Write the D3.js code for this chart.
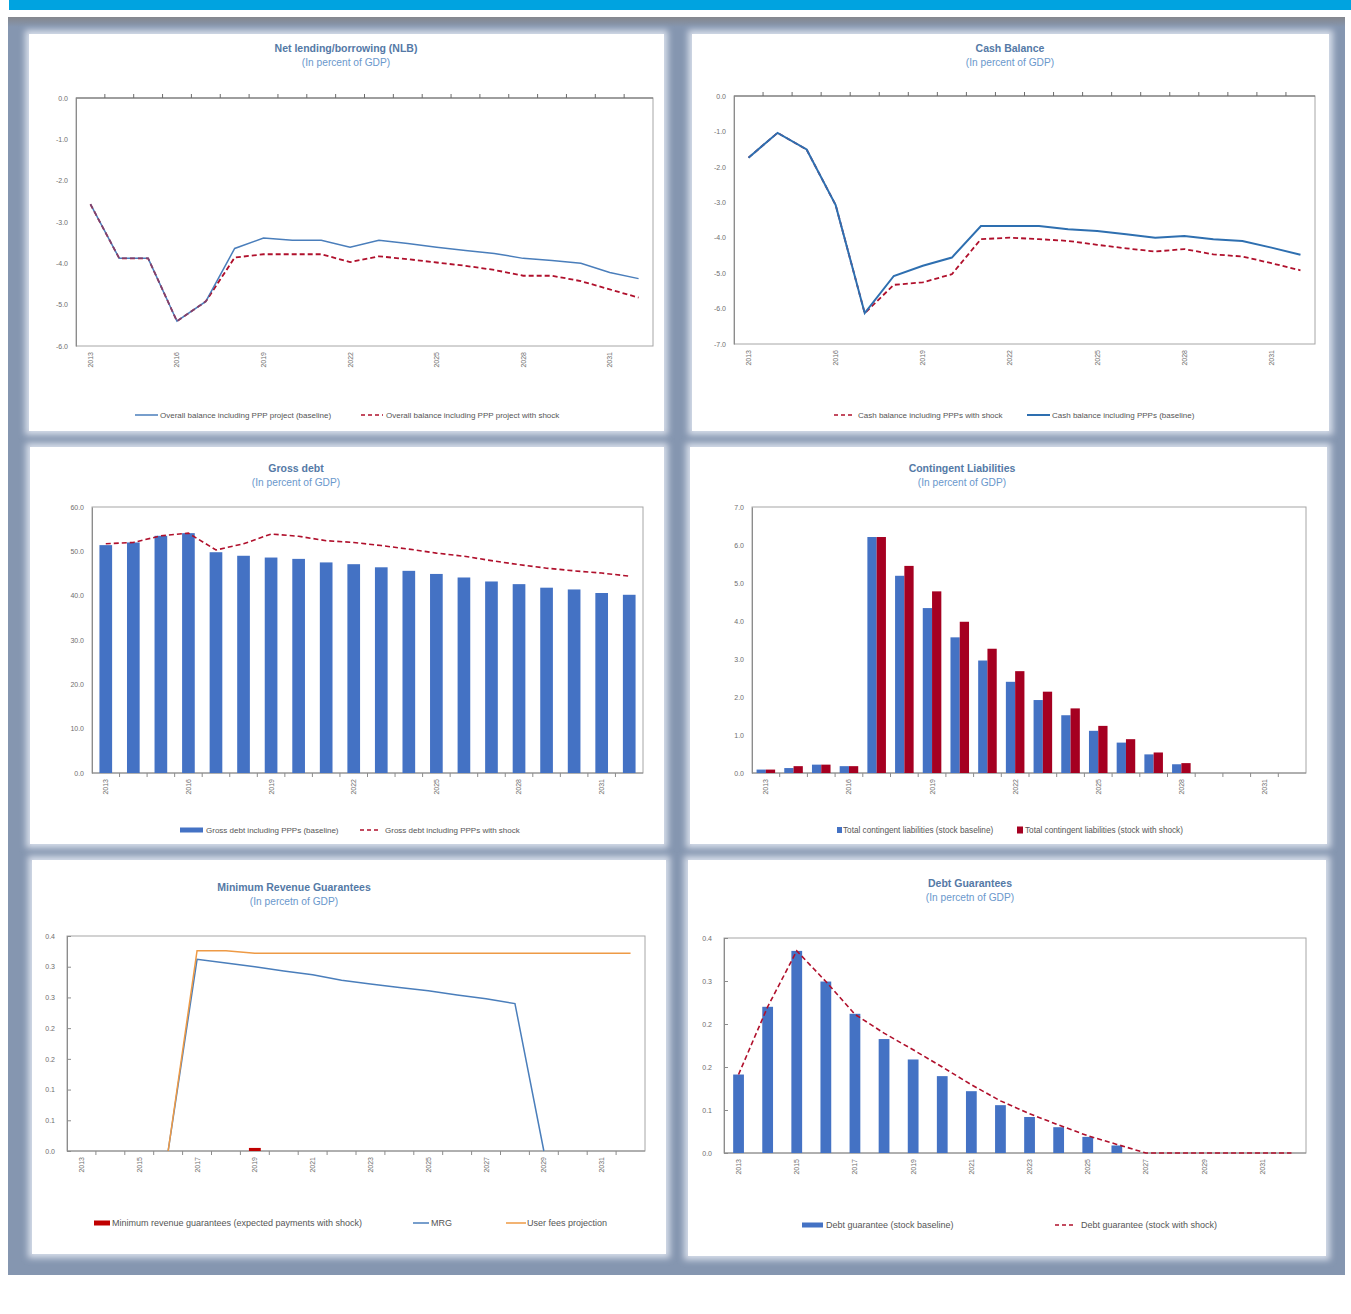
<!DOCTYPE html>
<html>
<head>
<meta charset="utf-8">
<script src="https://cdn.jsdelivr.net/npm/d3@7"></script>
<style>
  body { margin: 0; background: #fff; }
  text { font-family: "Liberation Sans", Arial, sans-serif; }
</style>
</head>
<body>
<svg id="page" width="1351" height="1314"></svg>
<script>
// ---- data ----
const years = [2013, 2014, 2015, 2016, 2017, 2018, 2019, 2020, 2021, 2022,
               2023, 2024, 2025, 2026, 2027, 2028, 2029, 2030, 2031, 2032];
const everyThird = [2013, 2016, 2019, 2022, 2025, 2028, 2031];
const everyOther = [2013, 2015, 2017, 2019, 2021, 2023, 2025, 2027, 2029, 2031];

const nlbBaseline = [-2.57, -3.88, -3.88, -5.40, -4.92, -3.64, -3.39, -3.44, -3.44, -3.61,
                     -3.44, -3.52, -3.61, -3.69, -3.76, -3.88, -3.93, -4.00, -4.22, -4.37];
const nlbShock    = [-2.57, -3.88, -3.88, -5.40, -4.92, -3.86, -3.78, -3.78, -3.78, -3.97,
                     -3.83, -3.90, -3.98, -4.06, -4.16, -4.30, -4.30, -4.43, -4.63, -4.83];
const nlbTicks = [0, -1, -2, -3, -4, -5, -6];
const nlbTickLabels = ['0.0', '-1.0', '-2.0', '-3.0', '-4.0', '-5.0', '-6.0'];

const cashBaseline = [-1.74, -1.04, -1.51, -3.08, -6.13, -5.08, -4.79, -4.56, -3.67, -3.67,
                      -3.67, -3.76, -3.81, -3.90, -4.00, -3.95, -4.04, -4.09, -4.28, -4.48];
const cashShock    = [-1.74, -1.04, -1.51, -3.08, -6.13, -5.33, -5.26, -5.03, -4.04, -4.00,
                      -4.04, -4.09, -4.20, -4.30, -4.39, -4.32, -4.47, -4.53, -4.72, -4.92];
const cashTicks = [0, -1, -2, -3, -4, -5, -6, -7];
const cashTickLabels = ['0.0', '-1.0', '-2.0', '-3.0', '-4.0', '-5.0', '-6.0', '-7.0'];

const debtBaseline = [51.4, 52.0, 53.5, 54.1, 49.8, 49.0, 48.6, 48.3, 47.5, 47.1,
                      46.4, 45.6, 44.9, 44.1, 43.2, 42.6, 41.8, 41.4, 40.6, 40.2];
const debtShock    = [51.7, 52.0, 53.5, 54.1, 50.3, 51.7, 53.9, 53.4, 52.4, 52.0,
                      51.3, 50.5, 49.6, 48.9, 47.9, 47.0, 46.2, 45.6, 45.1, 44.4];
const debtTicks = [0, 10, 20, 30, 40, 50, 60];
const debtTickLabels = ['0.0', '10.0', '20.0', '30.0', '40.0', '50.0', '60.0'];

const contBaseline = [0.09, 0.13, 0.22, 0.18, 6.21, 5.19, 4.34, 3.57, 2.96, 2.40,
                      1.92, 1.52, 1.11, 0.80, 0.49, 0.23, 0, 0, 0, 0];
const contShock    = [0.09, 0.18, 0.22, 0.18, 6.21, 5.45, 4.78, 3.98, 3.27, 2.68,
                      2.14, 1.70, 1.24, 0.89, 0.54, 0.26, 0, 0, 0, 0];
const contTicks = [0, 1, 2, 3, 4, 5, 6, 7];
const contTickLabels = ['0.0', '1.0', '2.0', '3.0', '4.0', '5.0', '6.0', '7.0'];

const mrgPayments = [0, 0, 0, 0, 0, 0, 0.005, 0, 0, 0, 0, 0, 0, 0, 0, 0, 0, 0, 0, 0];
const mrgLine     = [null, null, null, 0, 0.312, 0.306, 0.300, 0.293, 0.287, 0.278,
                     0.272, 0.266, 0.261, 0.254, 0.248, 0.240, 0, null, null, null];
const userFees    = [null, null, null, 0, 0.326, 0.326, 0.322, 0.322, 0.322, 0.322,
                     0.322, 0.322, 0.322, 0.322, 0.322, 0.322, 0.322, 0.322, 0.322, 0.322];
const mrgTicks = [0, 0.05, 0.1, 0.15, 0.2, 0.25, 0.3, 0.35];
const mrgTickLabels = ['0.0', '0.1', '0.1', '0.2', '0.2', '0.3', '0.3', '0.4'];

const guarBaseline = [0.146, 0.272, 0.376, 0.319, 0.259, 0.212, 0.174, 0.143, 0.115, 0.089,
                      0.067, 0.048, 0.030, 0.014, 0, 0, 0, 0, 0, 0];
const guarShock    = [0.146, 0.272, 0.376, 0.319, 0.258, 0.223, 0.192, 0.160, 0.127, 0.097,
                      0.073, 0.052, 0.032, 0.016, 0, 0, 0, 0, 0, 0];
const guarTicks = [0, 0.08, 0.16, 0.24, 0.32, 0.4];
const guarTickLabels = ['0.0', '0.1', '0.2', '0.2', '0.3', '0.4'];

// ---- colours ----
const BLUE_LINE = '#4a7ebb';
const BLUE_DARK = '#2e6fb0';
const BAR_BLUE = '#4472c4';
const RED = '#b0102c';
const BAR_RED = '#a50021';
const ORANGE = '#ee9a45';
const AXIS = '#8c8c8c';
const TICK_TEXT = '#6e6e6e';

const svg = d3.select('#page');
const defs = svg.append('defs');

const shade = defs.append('linearGradient').attr('id', 'topShade')
    .attr('x1', 0).attr('y1', 0).attr('x2', 0).attr('y2', 1);
shade.append('stop').attr('offset', '0%').attr('stop-color', '#85878d');
shade.append('stop').attr('offset', '100%').attr('stop-color', '#8596b0');

const glow = defs.append('filter').attr('id', 'glow')
    .attr('x', '-5%').attr('y', '-5%').attr('width', '110%').attr('height', '110%');
glow.append('feGaussianBlur').attr('stdDeviation', 3);

// page frame
svg.append('rect').attr('x', 9).attr('y', 0).attr('width', 1342).attr('height', 10).attr('fill', '#00a3e0');
svg.append('rect').attr('x', 8).attr('y', 17).attr('width', 1337).attr('height', 1258).attr('fill', '#8596b0');
svg.append('rect').attr('x', 8).attr('y', 17).attr('width', 1337).attr('height', 10).attr('fill', 'url(#topShade)');

function drawPanel(x, y, w, h) {
  svg.append('rect').attr('x', x - 4).attr('y', y - 4).attr('width', w + 8).attr('height', h + 8)
      .attr('fill', '#d6dde9').attr('filter', 'url(#glow)');
  svg.append('rect').attr('x', x).attr('y', y).attr('width', w).attr('height', h).attr('fill', '#fff');
}

function titles(cx, y, title, sub) {
  svg.append('text').attr('x', cx).attr('y', y).attr('text-anchor', 'middle')
      .attr('font-size', 10.5).attr('font-weight', 'bold').attr('fill', '#5479a6').text(title);
  svg.append('text').attr('x', cx).attr('y', y + 14).attr('text-anchor', 'middle')
      .attr('font-size', 10.2).attr('fill', '#6a98cc').text(sub);
}

function plotArea(left, top, w, h) {
  const g = svg.append('g').attr('transform', `translate(${left},${top})`);
  g.append('rect').attr('width', w).attr('height', h)
      .attr('fill', 'none').attr('stroke', '#a6a6a6').attr('stroke-width', 1);
  return g;
}

function yAxis(g, y, ticks, labels, inside) {
  const ax = d3.axisLeft(y).tickValues(ticks).tickFormat((d, i) => labels[i])
      .tickSize(inside ? -4 : 0).tickPadding(inside ? 12 : 8);
  const a = g.append('g').call(ax);
  a.select('.domain').attr('stroke', AXIS);
  a.selectAll('.tick line').attr('stroke', AXIS);
  a.selectAll('text').attr('font-size', 7).attr('fill', TICK_TEXT).attr('font-family', 'Liberation Sans, Arial');
}

function yearLabels(g, x, h, ticks) {
  const a = g.append('g').attr('transform', `translate(0,${h})`)
      .call(d3.axisBottom(x).tickValues(ticks).tickSize(0));
  a.select('.domain').remove();
  a.selectAll('text')
      .attr('transform', 'rotate(-90)')
      .attr('text-anchor', 'end')
      .attr('x', -6).attr('y', 0).attr('dy', '0.35em')
      .attr('font-size', 7).attr('fill', TICK_TEXT).attr('font-family', 'Liberation Sans, Arial');
}

// small marks on the category boundaries
function boundaryTicks(g, x, yPos, dir, color) {
  const gap = (x.step() - x.bandwidth()) / 2;
  g.selectAll(null).data(years.slice(1)).enter().append('line')
      .attr('x1', d => x(d) - gap)
      .attr('x2', d => x(d) - gap)
      .attr('y1', yPos).attr('y2', yPos + dir * 4)
      .attr('stroke', color).attr('stroke-width', 1);
}

function legendLine(x1, x2, y, color, dashed, width) {
  svg.append('line').attr('x1', x1).attr('x2', x2).attr('y1', y).attr('y2', y)
      .attr('stroke', color).attr('stroke-width', width || 1.5)
      .attr('stroke-dasharray', dashed ? '4,3' : null);
}
function legendRect(x, y, w, h, color) {
  svg.append('rect').attr('x', x).attr('y', y - h / 2).attr('width', w).attr('height', h).attr('fill', color);
}
function legendText(x, y, t, size) {
  svg.append('text').attr('x', x).attr('y', y).attr('dy', '0.35em')
      .attr('font-size', size || 8).attr('fill', '#555').text(t);
}

// ---- panels ----
drawPanel(29, 34, 635, 397);
drawPanel(692, 34, 637, 397);
drawPanel(30, 447, 634, 397);
drawPanel(690, 447, 637, 397);
drawPanel(32, 860, 634, 394);
drawPanel(688, 860, 638, 396);

// ================= 1. Net lending/borrowing =================
titles(346, 52, 'Net lending/borrowing (NLB)', '(In percent of GDP)');
(function () {
  const w = 577, h = 248;
  const g = plotArea(76, 98, w, h);
  const x = d3.scaleBand().domain(years).range([0, w]);
  const y = d3.scaleLinear().domain([-6, 0]).range([h, 0]);
  yAxis(g, y, nlbTicks, nlbTickLabels, false);
  // category axis sits on the zero line at the top
  g.append('line').attr('x1', 0).attr('x2', w).attr('y1', y(0)).attr('y2', y(0))
      .attr('stroke', '#6b6b6b').attr('stroke-width', 1.2);
  boundaryTicks(g, x, y(0), -1, '#6b6b6b');
  yearLabels(g, x, h, everyThird);
  const line = d3.line().x((d, i) => x(years[i]) + x.bandwidth() / 2).y(d => y(d));
  g.append('path').datum(nlbShock).attr('d', line).attr('fill', 'none')
      .attr('stroke', RED).attr('stroke-width', 1.8).attr('stroke-dasharray', '5,3');
  g.append('path').datum(nlbBaseline).attr('d', line).attr('fill', 'none')
      .attr('stroke', BLUE_LINE).attr('stroke-width', 1.5);
  g.append('path').datum(nlbShock.slice(0, 6)).attr('d', line).attr('fill', 'none')
      .attr('stroke', RED).attr('stroke-width', 1.2).attr('stroke-dasharray', '5,3').attr('opacity', 0.6);
})();
legendLine(135, 158, 415, BLUE_LINE, false);
legendText(160, 415, 'Overall balance including PPP project (baseline)');
legendLine(361, 383, 415, RED, true);
legendText(386, 415, 'Overall balance including PPP project with shock');

// ================= 2. Cash balance =================
titles(1010, 52, 'Cash Balance', '(In percent of GDP)');
(function () {
  const w = 581, h = 248;
  const g = plotArea(734, 96, w, h);
  const x = d3.scaleBand().domain(years).range([0, w]);
  const y = d3.scaleLinear().domain([-7, 0]).range([h, 0]);
  yAxis(g, y, cashTicks, cashTickLabels, false);
  g.append('line').attr('x1', 0).attr('x2', w).attr('y1', y(0)).attr('y2', y(0))
      .attr('stroke', '#6b6b6b').attr('stroke-width', 1.2);
  boundaryTicks(g, x, y(0), -1, '#6b6b6b');
  yearLabels(g, x, h, everyThird);
  const line = d3.line().x((d, i) => x(years[i]) + x.bandwidth() / 2).y(d => y(d));
  g.append('path').datum(cashShock).attr('d', line).attr('fill', 'none')
      .attr('stroke', RED).attr('stroke-width', 1.8).attr('stroke-dasharray', '5,3');
  g.append('path').datum(cashBaseline).attr('d', line).attr('fill', 'none')
      .attr('stroke', BLUE_DARK).attr('stroke-width', 2);
})();
legendLine(834, 854, 415, RED, true);
legendText(858, 415, 'Cash balance including PPPs with shock');
legendLine(1027, 1050, 415, BLUE_DARK, false, 2);
legendText(1052, 415, 'Cash balance including PPPs (baseline)');

// ================= 3. Gross debt =================
titles(296, 472, 'Gross debt', '(In percent of GDP)');
(function () {
  const w = 551, h = 266;
  const g = plotArea(92, 507, w, h);
  const x = d3.scaleBand().domain(years).range([0, w]).paddingInner(0.54).paddingOuter(0.27);
  const y = d3.scaleLinear().domain([0, 60]).range([h, 0]);
  yAxis(g, y, debtTicks, debtTickLabels, false);
  g.append('line').attr('x1', 0).attr('x2', w).attr('y1', h).attr('y2', h).attr('stroke', AXIS);
  boundaryTicks(g, x, h, 1, AXIS);
  yearLabels(g, x, h, everyThird);
  g.selectAll('.bar').data(debtBaseline).enter().append('rect')
      .attr('x', (d, i) => x(years[i]))
      .attr('y', d => y(d))
      .attr('width', x.bandwidth())
      .attr('height', d => h - y(d))
      .attr('fill', BAR_BLUE);
  const line = d3.line().x((d, i) => x(years[i]) + x.bandwidth() / 2).y(d => y(d));
  g.append('path').datum(debtShock).attr('d', line).attr('fill', 'none')
      .attr('stroke', RED).attr('stroke-width', 1.6).attr('stroke-dasharray', '5,3');
})();
legendRect(180, 830, 23, 5, BAR_BLUE);
legendText(206, 830, 'Gross debt including PPPs (baseline)');
legendLine(360, 380, 830, RED, true);
legendText(385, 830, 'Gross debt including PPPs with shock');

// ================= 4. Contingent liabilities =================
titles(962, 472, 'Contingent Liabilities', '(In percent of GDP)');
(function () {
  const w = 554, h = 266;
  const g = plotArea(752, 507, w, h);
  const x = d3.scaleBand().domain(years).range([0, w]).paddingInner(0.33).paddingOuter(0.165);
  const sub = d3.scaleBand().domain(['base', 'shock']).range([0, x.bandwidth()]);
  const y = d3.scaleLinear().domain([0, 7]).range([h, 0]);
  yAxis(g, y, contTicks, contTickLabels, false);
  g.append('line').attr('x1', 0).attr('x2', w).attr('y1', h).attr('y2', h).attr('stroke', AXIS);
  boundaryTicks(g, x, h, 1, AXIS);
  yearLabels(g, x, h, everyThird);
  g.selectAll('.b').data(contBaseline).enter().append('rect')
      .attr('x', (d, i) => x(years[i]) + sub('base'))
      .attr('y', d => y(d)).attr('width', sub.bandwidth())
      .attr('height', d => h - y(d)).attr('fill', BAR_BLUE);
  g.selectAll('.s').data(contShock).enter().append('rect')
      .attr('x', (d, i) => x(years[i]) + sub('shock'))
      .attr('y', d => y(d)).attr('width', sub.bandwidth())
      .attr('height', d => h - y(d)).attr('fill', BAR_RED);
})();
legendRect(837, 830, 5, 6, BAR_BLUE);
legendText(843, 830, 'Total contingent liabilities (stock baseline)', 8.2);
legendRect(1017, 830, 6, 7, BAR_RED);
legendText(1025, 830, 'Total contingent liabilities (stock with shock)', 8.2);

// ================= 5. Minimum revenue guarantees =================
titles(294, 891, 'Minimum Revenue Guarantees', '(In percetn of GDP)');
(function () {
  const w = 578, h = 215;
  const g = plotArea(67, 936, w, h);
  const x = d3.scaleBand().domain(years).range([0, w]).paddingInner(0.59).paddingOuter(0.295);
  const y = d3.scaleLinear().domain([0, 0.35]).range([h, 0]);
  yAxis(g, y, mrgTicks, mrgTickLabels, true);
  g.append('line').attr('x1', 0).attr('x2', w).attr('y1', h).attr('y2', h).attr('stroke', AXIS);
  boundaryTicks(g, x, h, 1, AXIS);
  yearLabels(g, x, h, everyOther);
  g.selectAll('.p').data(mrgPayments).enter().append('rect')
      .attr('x', (d, i) => x(years[i]))
      .attr('y', d => y(d)).attr('width', x.bandwidth())
      .attr('height', d => h - y(d)).attr('fill', '#c00000');
  const line = d3.line().defined(d => d !== null)
      .x((d, i) => x(years[i]) + x.bandwidth() / 2).y(d => y(d));
  g.append('path').datum(mrgLine).attr('d', line).attr('fill', 'none')
      .attr('stroke', BLUE_LINE).attr('stroke-width', 1.5);
  g.append('path').datum(userFees).attr('d', line).attr('fill', 'none')
      .attr('stroke', ORANGE).attr('stroke-width', 1.5);
})();
legendRect(94, 1223, 16, 5, '#c00000');
legendText(112, 1223, 'Minimum revenue guarantees (expected payments with shock)', 9);
legendLine(413, 429, 1223, BLUE_LINE, false);
legendText(431, 1223, 'MRG', 9);
legendLine(506, 526, 1223, ORANGE, false);
legendText(527, 1223, 'User fees projection', 9);

// ================= 6. Debt guarantees =================
titles(970, 887, 'Debt Guarantees', '(In percetn of GDP)');
(function () {
  const w = 582, h = 215;
  const g = plotArea(724, 938, w, h);
  const x = d3.scaleBand().domain(years).range([0, w]).paddingInner(0.63).paddingOuter(0.315);
  const y = d3.scaleLinear().domain([0, 0.4]).range([h, 0]);
  yAxis(g, y, guarTicks, guarTickLabels, true);
  g.append('line').attr('x1', 0).attr('x2', w).attr('y1', h).attr('y2', h).attr('stroke', AXIS);
  yearLabels(g, x, h, everyOther);
  g.selectAll('.b').data(guarBaseline).enter().append('rect')
      .attr('x', (d, i) => x(years[i]))
      .attr('y', d => y(d)).attr('width', x.bandwidth())
      .attr('height', d => h - y(d)).attr('fill', BAR_BLUE);
  const line = d3.line().x((d, i) => x(years[i]) + x.bandwidth() / 2).y(d => y(d));
  g.append('path').datum(guarShock).attr('d', line).attr('fill', 'none')
      .attr('stroke', RED).attr('stroke-width', 1.6).attr('stroke-dasharray', '5,3');
})();
legendRect(802, 1225, 21, 5, BAR_BLUE);
legendText(826, 1225, 'Debt guarantee (stock baseline)', 9);
legendLine(1055, 1076, 1225, RED, true);
legendText(1081, 1225, 'Debt guarantee (stock with shock)', 9);
</script>
</body>
</html>
